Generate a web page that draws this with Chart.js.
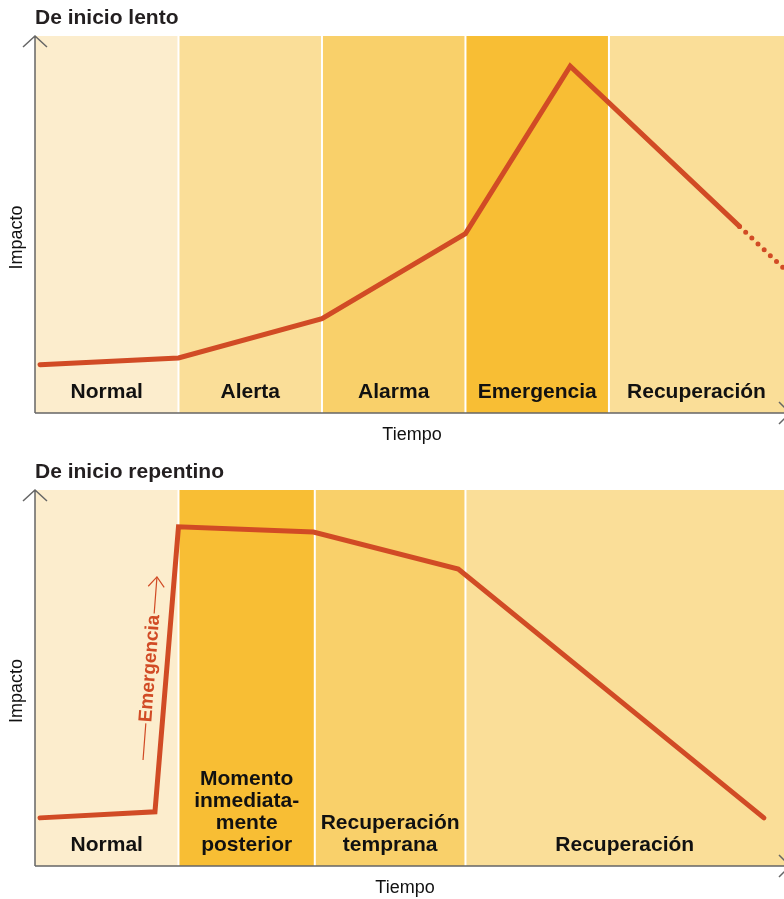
<!DOCTYPE html>
<html><head><meta charset="utf-8">
<script src="https://cdn.jsdelivr.net/npm/chart.js@4"></script>
<style>
html,body{margin:0;padding:0;background:#fff;}
canvas{display:block;}
</style></head>
<body>
<canvas id="slow" width="784" height="450"></canvas>
<canvas id="sudden" width="784" height="449"></canvas>
<script>
// ---------- data ----------
const slowTitle = 'De inicio lento';
const suddenTitle = 'De inicio repentino';
const yAxisLabel = 'Impacto';
const xAxisLabel = 'Tiempo';

const slowPhaseEdges = [0, 1, 2, 3, 4, 5.22];
const slowPhaseLabels = [['Normal'], ['Alerta'], ['Alarma'], ['Emergencia'], ['Recuperación']];
const slowTime = [0.035, 1.0, 2.0, 3.0, 3.73, 4.91];
const slowImpact = [12.8, 14.6, 25.0, 47.6, 92.0, 49.5];
const slowProjTime = [4.91, 5.22];
const slowProjImpact = [49.5, 38.3];

const suddenPhaseEdges = [0, 1, 1.95, 3.0, 5.22];
const suddenPhaseLabels = [['Normal'], ['Momento', 'inmediata-', 'mente', 'posterior'], ['Recuperación', 'temprana'], ['Recuperación']];
const suddenTime = [0.035, 0.836, 1.0, 1.94, 2.95, 5.08];
const suddenImpact = [12.8, 14.4, 90.2, 88.8, 79.0, 12.8];
const emergencyArrowTime = [0.753, 0.850];
const emergencyArrowImpact = [28.2, 76.9];
const emergencyLabel = 'Emergencia';

// ---------- styles ----------
const FONT = '"Liberation Sans", Arial, Helvetica, sans-serif';
const LINE = '#D14B25';
const slowColors = ['#FCEDCD', '#FADE98', '#F9D06A', '#F8BE34', '#FADE98'];
const suddenColors = ['#FCEDCD', '#F8BE34', '#F9D06A', '#FADE98'];

function toPts(xs, ys) { return xs.map((x, i) => ({ x: x, y: ys[i] })); }

const phasePlugin = {
  id: 'phases',
  beforeDatasetsDraw(chart, args, o) {
    const { ctx, scales: { x, y } } = chart;
    const top = y.getPixelForValue(100), bot = y.getPixelForValue(0);
    ctx.save();
    for (let i = 0; i < o.edges.length - 1; i++) {
      const l = x.getPixelForValue(o.edges[i]), r = x.getPixelForValue(o.edges[i + 1]);
      ctx.fillStyle = o.colors[i];
      ctx.fillRect(l, top, r - l, bot - top);
    }
    ctx.strokeStyle = '#ffffff';
    ctx.lineWidth = 2;
    for (let i = 1; i < o.edges.length - 1; i++) {
      const px = x.getPixelForValue(o.edges[i]);
      ctx.beginPath(); ctx.moveTo(px, top); ctx.lineTo(px, bot); ctx.stroke();
    }
    ctx.restore();
  },
  afterDatasetsDraw(chart, args, o) {
    const { ctx, chartArea: a, scales: { x, y } } = chart;
    const top = y.getPixelForValue(100), bot = y.getPixelForValue(0);
    ctx.save();
    // phase labels
    ctx.fillStyle = '#111111';
    ctx.font = 'bold 21px ' + FONT;
    ctx.textAlign = 'center';
    ctx.textBaseline = 'alphabetic';
    for (let i = 0; i < o.labels.length; i++) {
      const cx = (x.getPixelForValue(o.edges[i]) + x.getPixelForValue(o.edges[i + 1])) / 2;
      const lines = o.labels[i];
      lines.forEach((t, j) => {
        ctx.fillText(t, cx, bot - 15 - (lines.length - 1 - j) * 22);
      });
    }
    // axes
    ctx.strokeStyle = '#666666';
    ctx.lineWidth = 1.5;
    ctx.beginPath();
    ctx.moveTo(a.left, bot); ctx.lineTo(a.left, top);
    ctx.moveTo(a.left - 12, top + 11); ctx.lineTo(a.left, top); ctx.lineTo(a.left + 12, top + 11);
    ctx.moveTo(a.left, bot); ctx.lineTo(a.right + 6, bot);
    ctx.moveTo(a.right - 5, bot - 11); ctx.lineTo(a.right + 6, bot); ctx.lineTo(a.right - 5, bot + 11);
    ctx.stroke();
    // title
    ctx.fillStyle = '#231F20';
    ctx.font = 'bold 21px ' + FONT;
    ctx.textAlign = 'left';
    ctx.fillText(o.title, a.left, top - 12);
    // axis titles
    ctx.fillStyle = '#111111';
    ctx.font = '18px ' + FONT;
    ctx.textAlign = 'center';
    ctx.fillText(xAxisLabel, o.xTitleX, bot + 27);
    ctx.save();
    ctx.translate(a.left - 13, (top + bot) / 2 + 13);
    ctx.rotate(-Math.PI / 2);
    ctx.fillText(yAxisLabel, 0, 0);
    ctx.restore();
    // annotation arrow
    if (o.arrow) {
      const p0 = { x: x.getPixelForValue(o.arrow.xs[0]), y: y.getPixelForValue(o.arrow.ys[0]) };
      const p1 = { x: x.getPixelForValue(o.arrow.xs[1]), y: y.getPixelForValue(o.arrow.ys[1]) };
      const P = t => ({ x: p0.x + (p1.x - p0.x) * t, y: p0.y + (p1.y - p0.y) * t });
      const ang = Math.atan2(p1.y - p0.y, p1.x - p0.x);
      ctx.strokeStyle = LINE; ctx.fillStyle = LINE; ctx.lineWidth = 1.2;
      const q0 = P(0.2), q1 = P(0.8);
      ctx.beginPath();
      ctx.moveTo(p0.x, p0.y); ctx.lineTo(q0.x, q0.y);
      ctx.moveTo(q1.x, q1.y); ctx.lineTo(p1.x, p1.y);
      ctx.stroke();
      ctx.save();
      ctx.translate(p1.x, p1.y); ctx.rotate(ang);
      ctx.beginPath(); ctx.moveTo(-10, -8); ctx.lineTo(0, 0); ctx.lineTo(-10, 8); ctx.stroke();
      ctx.restore();
      const m = P(0.5);
      ctx.save();
      ctx.translate(m.x, m.y); ctx.rotate(ang);
      ctx.font = 'bold 19px ' + FONT;
      ctx.textAlign = 'center'; ctx.textBaseline = 'middle';
      ctx.fillText(o.arrow.text, 0, 0);
      ctx.restore();
    }
    ctx.restore();
  }
};

function makeChart(id, datasets, pad, phaseOpts) {
  return new Chart(document.getElementById(id), {
    type: 'line',
    data: { datasets: datasets },
    options: {
      responsive: false,
      animation: false,
      devicePixelRatio: 1,
      layout: { padding: pad },
      events: [],
      elements: { point: { radius: 0 }, line: { tension: 0 } },
      scales: {
        x: { type: 'linear', min: 0, max: 5.22, display: false },
        y: { type: 'linear', min: 0, max: 100, display: false }
      },
      plugins: { legend: { display: false }, tooltip: { enabled: false }, phases: phaseOpts }
    },
    plugins: [phasePlugin]
  });
}

makeChart('slow', [
  { data: toPts(slowTime, slowImpact), borderColor: LINE, borderWidth: 5, borderJoinStyle: 'miter', borderCapStyle: 'round', fill: false },
  { data: toPts(slowProjTime, slowProjImpact), borderColor: LINE, borderWidth: 5, borderCapStyle: 'round', borderDash: [0, 8.5], fill: false }
], { left: 35, right: 0, top: 36, bottom: 37 }, {
  edges: slowPhaseEdges, colors: slowColors, labels: slowPhaseLabels, title: slowTitle, xTitleX: 412
});

makeChart('sudden', [
  { data: toPts(suddenTime, suddenImpact), borderColor: LINE, borderWidth: 5, borderJoinStyle: 'miter', borderCapStyle: 'round', fill: false }
], { left: 35, right: 0, top: 40, bottom: 33 }, {
  edges: suddenPhaseEdges, colors: suddenColors, labels: suddenPhaseLabels, title: suddenTitle, xTitleX: 405,
  arrow: { xs: emergencyArrowTime, ys: emergencyArrowImpact, text: emergencyLabel }
});
</script>
</body></html>
